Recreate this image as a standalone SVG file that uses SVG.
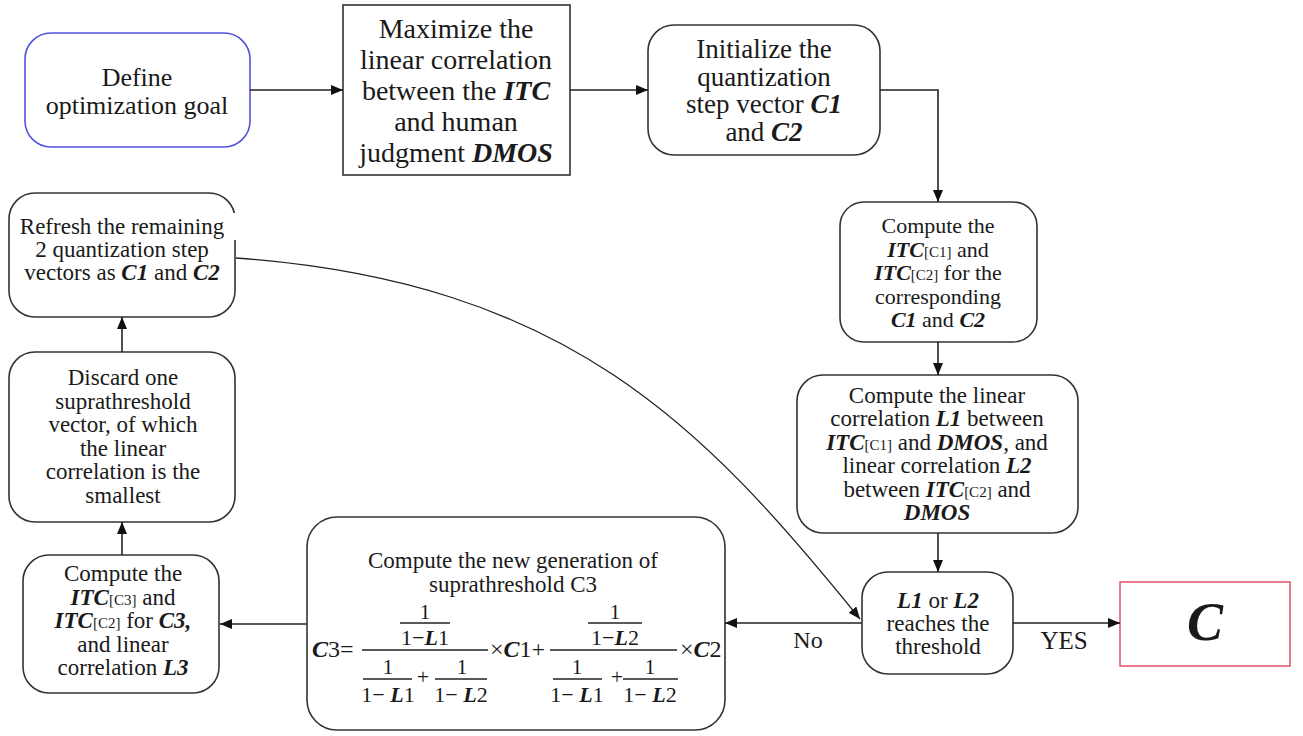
<svg xmlns="http://www.w3.org/2000/svg" width="1303" height="736" viewBox="0 0 1303 736">
<defs>
<marker id="ah" markerUnits="userSpaceOnUse" markerWidth="13" markerHeight="10" refX="12" refY="5" orient="auto">
<path d="M0,0 L12,5 L0,10 z" fill="#111"/>
</marker>
<style>
.n rect{fill:#fff;stroke:#333;stroke-width:1.6}
text{font-family:"Liberation Serif","Times New Roman",serif;fill:#1a1a1a;text-anchor:middle}
.f28{font-size:28px}
.f27{font-size:27px}
.f26{font-size:26px}
.f24{font-size:24px}
.f23{font-size:23px}
.f22{font-size:22px}
.f21{font-size:21px}
.bi{font-weight:bold;font-style:italic}
.sub{font-size:15px;font-weight:normal;font-style:normal}
.c path{stroke:#222;stroke-width:1.6;fill:none;marker-end:url(#ah)}
.bar{stroke:#222;stroke-width:1.3}
</style>
</defs>
<rect width="1303" height="736" fill="#fff"/>

<g id="define" class="n">
<rect x="25" y="33" width="225" height="114" rx="26" style="stroke:#5252dc"/>
<text class="f26"><tspan x="137" y="86">Define</tspan><tspan x="137" dy="28">optimization goal</tspan></text>
</g>

<g id="maximize" class="n">
<rect x="343" y="5" width="227" height="170"/>
<text class="f28"><tspan x="456" y="38">Maximize the</tspan><tspan x="456" dy="31">linear correlation</tspan><tspan x="456" dy="31">between the <tspan class="bi">ITC</tspan></tspan><tspan x="456" dy="31">and human</tspan><tspan x="456" dy="31">judgment <tspan class="bi">DMOS</tspan></tspan></text>
</g>

<g id="initialize" class="n">
<rect x="648" y="25" width="232" height="130" rx="26"/>
<text class="f27"><tspan x="764" y="58">Initialize the</tspan><tspan x="764" dy="27.5">quantization</tspan><tspan x="764" dy="27.5">step vector <tspan class="bi">C1</tspan></tspan><tspan x="764" dy="27.5">and <tspan class="bi">C2</tspan></tspan></text>
</g>

<g id="computeITC" class="n">
<rect x="840" y="202" width="197" height="140" rx="24"/>
<text class="f22"><tspan x="938" y="233">Compute the</tspan><tspan x="938" dy="23.5"><tspan class="bi">ITC</tspan><tspan class="sub">[C1]</tspan> and</tspan><tspan x="938" dy="23.5"><tspan class="bi">ITC</tspan><tspan class="sub">[C2]</tspan> for the</tspan><tspan x="938" dy="23.5">corresponding</tspan><tspan x="938" dy="23.5"><tspan class="bi">C1</tspan> and <tspan class="bi">C2</tspan></tspan></text>
</g>

<g id="linearCorr" class="n">
<rect x="797" y="375" width="281" height="158" rx="26"/>
<text class="f23"><tspan x="937" y="403">Compute the linear</tspan><tspan x="937" dy="23.4">correlation <tspan class="bi">L1</tspan> between</tspan><tspan x="937" dy="23.4"><tspan class="bi">ITC</tspan><tspan class="sub">[C1]</tspan> and <tspan class="bi">DMOS</tspan>, and</tspan><tspan x="937" dy="23.4">linear correlation <tspan class="bi">L2</tspan></tspan><tspan x="937" dy="23.4">between <tspan class="bi">ITC</tspan><tspan class="sub">[C2]</tspan> and</tspan><tspan x="937" dy="23.4" class="bi">DMOS</tspan></text>
</g>

<g id="threshold" class="n">
<rect x="862" y="572" width="151" height="102" rx="26"/>
<text class="f23"><tspan x="938" y="607.5"><tspan class="bi">L1</tspan> or <tspan class="bi">L2</tspan></tspan><tspan x="938" dy="23">reaches the</tspan><tspan x="938" dy="23">threshold</tspan></text>
</g>

<g id="result" class="n">
<rect x="1120" y="582" width="170" height="84" style="stroke:#e0606c"/>
<text x="1205" y="640" style="font-size:54px" class="bi">C</text>
</g>

<g id="newGen" class="n">
<rect x="307" y="517" width="418" height="213" rx="30"/>
<text class="f23"><tspan x="513" y="568">Compute the new generation of</tspan><tspan x="513" dy="24">suprathreshold C3</tspan></text>
<g class="formula">
<text x="312" y="657" style="font-size:24px;text-anchor:start"><tspan class="bi">C</tspan>3=</text>
<line class="bar" x1="362" y1="650" x2="488" y2="650"/>
<text class="f21" x="425" y="619">1</text>
<line class="bar" x1="400" y1="623" x2="450" y2="623"/>
<text class="f22" x="425" y="645">1−<tspan class="bi">L</tspan>1</text>
<text class="f21" x="388" y="674">1</text>
<line class="bar" x1="363" y1="679" x2="412" y2="679"/>
<text class="f22" x="388" y="702">1− <tspan class="bi">L</tspan>1</text>
<text class="f22" x="423" y="684">+</text>
<text class="f21" x="462" y="674">1</text>
<line class="bar" x1="435" y1="679" x2="487" y2="679"/>
<text class="f22" x="461" y="702">1− <tspan class="bi">L</tspan>2</text>
<text x="490" y="657" style="font-size:24px;text-anchor:start">×<tspan class="bi">C</tspan>1+</text>
<line class="bar" x1="550" y1="650" x2="677" y2="650"/>
<text class="f21" x="615" y="619">1</text>
<line class="bar" x1="588" y1="623" x2="642" y2="623"/>
<text class="f22" x="615" y="645">1−<tspan class="bi">L</tspan>2</text>
<text class="f21" x="577" y="674">1</text>
<line class="bar" x1="553" y1="679" x2="602" y2="679"/>
<text class="f22" x="577" y="702">1− <tspan class="bi">L</tspan>1</text>
<text class="f22" x="617" y="684">+</text>
<text class="f21" x="650" y="674">1</text>
<line class="bar" x1="623" y1="679" x2="678" y2="679"/>
<text class="f22" x="650" y="702">1− <tspan class="bi">L</tspan>2</text>
<text x="680" y="657" style="font-size:24px;text-anchor:start">×<tspan class="bi">C</tspan>2</text>
</g>
</g>

<g id="computeC3" class="n">
<rect x="23" y="555" width="196" height="138" rx="26"/>
<text class="f23"><tspan x="123" y="581">Compute the</tspan><tspan x="123" dy="23.5"><tspan class="bi">ITC</tspan><tspan class="sub">[C3]</tspan> and</tspan><tspan x="123" dy="23.5"><tspan class="bi">ITC</tspan><tspan class="sub">[C2]</tspan> for <tspan class="bi">C3,</tspan></tspan><tspan x="123" dy="23.5">and linear</tspan><tspan x="123" dy="23.5">correlation <tspan class="bi">L3</tspan></tspan></text>
</g>

<g id="discard" class="n">
<rect x="9" y="352" width="226" height="170" rx="26"/>
<text class="f23"><tspan x="123" y="385">Discard one</tspan><tspan x="123" dy="23.5">suprathreshold</tspan><tspan x="123" dy="23.5">vector, of which</tspan><tspan x="123" dy="23.5">the linear</tspan><tspan x="123" dy="23.5">correlation is the</tspan><tspan x="123" dy="23.5">smallest</tspan></text>
</g>

<g id="refresh" class="n">
<rect x="9" y="193" width="226" height="124" rx="26"/>
<rect x="130" y="213" width="108" height="27" style="fill:#fff;stroke:none"/>
<text class="f23"><tspan x="122" y="234">Refresh the remaining</tspan><tspan x="122" dy="23">2 quantization step</tspan><tspan x="122" dy="23">vectors as <tspan class="bi">C1</tspan> and <tspan class="bi">C2</tspan></tspan></text>
</g>

<g id="connectors" class="c">
<path d="M250,90 H343"/>
<path d="M570,90 H648"/>
<path d="M880,90 H938 V202"/>
<path d="M938,342 V375"/>
<path d="M938,533 V572"/>
<path d="M1013,623 H1120"/>
<path d="M862,623 H725"/>
<path d="M307,624 H220"/>
<path d="M122,555 V522"/>
<path d="M122,352 V317"/>
<path d="M236,258 C567,282 703,425 860,619" style="stroke-width:1.3"/>
</g>
<text class="f24" x="808" y="648">No</text>
<text x="1064" y="649" style="font-size:25px">YES</text>
</svg>
